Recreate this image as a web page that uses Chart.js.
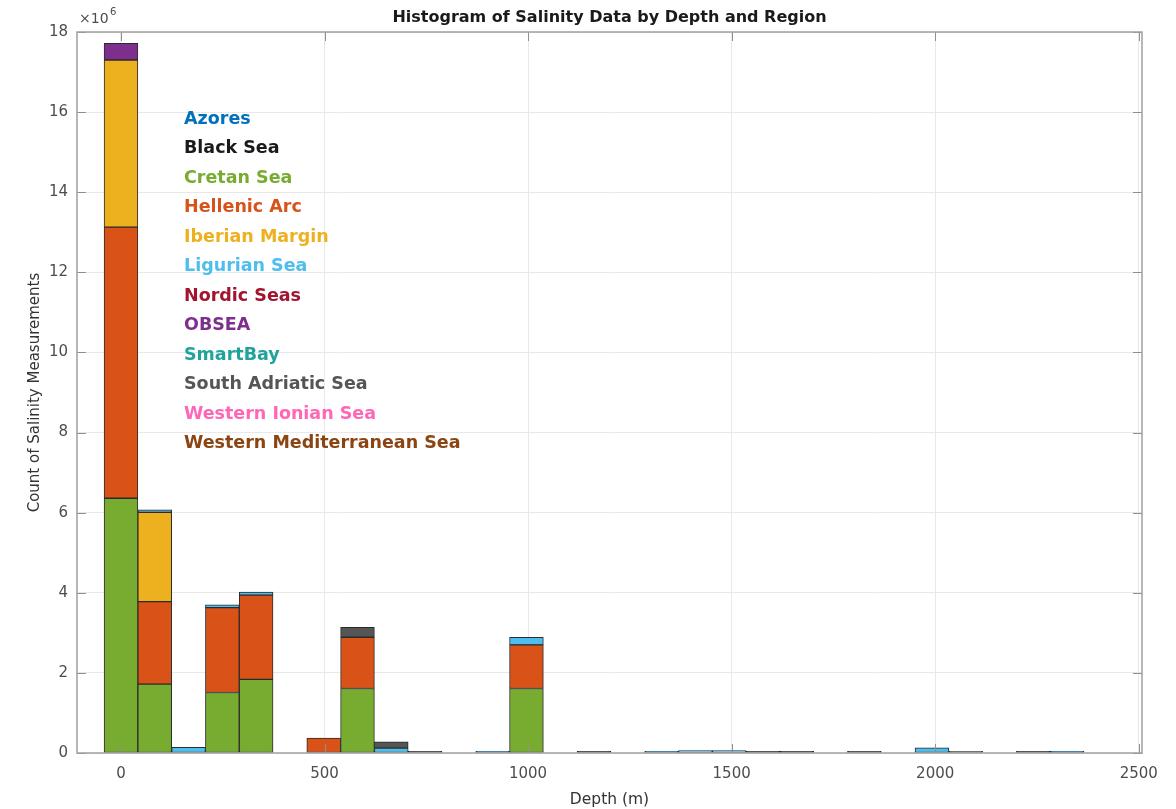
<!DOCTYPE html>
<html>
<head>
<meta charset="utf-8">
<title>Histogram of Salinity Data by Depth and Region</title>
<script src="https://cdn.jsdelivr.net/npm/chart.js@4.4.1/dist/chart.umd.min.js"></script>
<style>
  body { margin: 0; background: #fff; }
  #wrap { width: 1176px; height: 809px; }
</style>
</head>
<body>
<div id="wrap"><canvas id="myChart" width="1176" height="809"></canvas></div>
<script>
// bin centres (m), bin width 83 m
const depthBins = [0, 83, 166, 249, 332, 415, 498, 581, 664, 747, 830, 913, 996, 1079, 1162,
  1245, 1328, 1411, 1494, 1577, 1660, 1743, 1826, 1909, 1992, 2075, 2158, 2241, 2324, 2407];
const xTicks = [0, 500, 1000, 1500, 2000, 2500];
const yTicks = [0, 2, 4, 6, 8, 10, 12, 14, 16, 18];

// counts in millions (x10^6), one value per bin
const azores        = [0, 0, 0, 0, 0, 0, 0, 0, 0, 0, 0, 0.04, 0, 0, 0, 0, 0.04, 0, 0, 0, 0, 0, 0, 0, 0, 0, 0, 0, 0.04, 0];
const blackSea      = [0, 0, 0, 0, 0, 0, 0, 0, 0, 0.04, 0, 0, 0, 0, 0.04, 0, 0, 0, 0, 0.04, 0.04, 0, 0.04, 0, 0, 0, 0, 0.04, 0, 0];
const cretanSea     = [6.36, 1.72, 0, 1.51, 1.84, 0, 0, 1.61, 0, 0, 0, 0, 1.61, 0, 0, 0, 0, 0, 0, 0, 0, 0, 0, 0, 0, 0, 0, 0, 0, 0];
const hellenicArc   = [6.77, 2.06, 0, 2.12, 2.10, 0, 0.37, 1.28, 0, 0, 0, 0, 1.09, 0, 0, 0, 0, 0, 0, 0, 0, 0, 0, 0, 0, 0, 0, 0, 0, 0];
const iberianMargin = [4.17, 2.23, 0, 0, 0, 0, 0, 0, 0, 0, 0, 0, 0, 0, 0, 0, 0, 0, 0, 0, 0, 0, 0, 0, 0, 0, 0, 0, 0, 0];
const ligurianSea   = [0, 0.06, 0.14, 0.07, 0.08, 0, 0, 0, 0.12, 0, 0, 0, 0.19, 0, 0, 0, 0, 0.06, 0.06, 0, 0, 0, 0, 0, 0.13, 0, 0, 0, 0, 0];
const nordicSeas    = [0, 0, 0, 0, 0, 0, 0, 0, 0, 0, 0, 0, 0, 0, 0, 0, 0, 0, 0, 0, 0, 0, 0, 0, 0, 0, 0, 0, 0, 0];
const obsea         = [0.42, 0, 0, 0, 0, 0, 0, 0, 0, 0, 0, 0, 0, 0, 0, 0, 0, 0, 0, 0, 0, 0, 0, 0, 0, 0, 0, 0, 0, 0];
const smartBay      = [0, 0, 0, 0, 0, 0, 0, 0, 0, 0, 0, 0, 0, 0, 0, 0, 0, 0, 0, 0, 0, 0, 0, 0, 0, 0, 0, 0, 0, 0];
const southAdriatic = [0, 0, 0, 0, 0, 0, 0, 0.25, 0.16, 0, 0, 0, 0, 0, 0, 0, 0, 0, 0, 0, 0, 0, 0, 0, 0, 0.04, 0, 0, 0, 0];
const westernIonian = [0, 0, 0, 0, 0, 0, 0, 0, 0, 0, 0, 0, 0, 0, 0, 0, 0, 0, 0, 0, 0, 0, 0, 0, 0, 0, 0, 0, 0, 0];
const westernMed    = [0, 0, 0, 0, 0, 0, 0, 0, 0, 0, 0, 0, 0, 0, 0, 0, 0, 0, 0, 0, 0, 0, 0, 0, 0, 0, 0, 0, 0, 0];

const regions = ["Azores", "Black Sea", "Cretan Sea", "Hellenic Arc", "Iberian Margin", "Ligurian Sea",
  "Nordic Seas", "OBSEA", "SmartBay", "South Adriatic Sea", "Western Ionian Sea", "Western Mediterranean Sea"];
const regionValues = [azores, blackSea, cretanSea, hellenicArc, iberianMargin, ligurianSea,
  nordicSeas, obsea, smartBay, southAdriatic, westernIonian, westernMed];
const colores = ["#0072BD", "#1a1a1a", "#77AC30", "#D95319", "#EDB120", "#4DBEEE",
  "#A2142F", "#7E2F8E", "#1FA39B", "#555555", "#FF66B8", "#8B4513"];

const FONT = "'DejaVu Sans', Verdana, sans-serif";

const datasets = regions.map((nombre, i) => ({
  label: nombre,
  data: depthBins.map((d, j) => ({ x: d, y: regionValues[i][j] })),
  backgroundColor: colores[i],
  borderColor: "#2b2b2b",
  borderWidth: 1,
  borderSkipped: false,
  barPercentage: 1,
  categoryPercentage: 1,
}));

// text legend, box, inward ticks, title, exponent
const decoracion = {
  id: "decoracion",
  afterDatasetsDraw(chart) {
    const ctx = chart.ctx;
    const a = chart.chartArea;
    const xs = chart.scales.x;
    const ys = chart.scales.y;
    ctx.save();
    ctx.strokeStyle = "#8f8f8f";
    ctx.lineWidth = 1;
    ctx.beginPath();
    xTicks.forEach((t) => {
      const px = Math.round(xs.getPixelForValue(t)) + 0.5;
      ctx.moveTo(px, a.bottom); ctx.lineTo(px, a.bottom - 9);
      ctx.moveTo(px, a.top); ctx.lineTo(px, a.top + 9);
    });
    yTicks.forEach((t) => {
      const py = Math.round(ys.getPixelForValue(t)) + 0.5;
      ctx.moveTo(a.left, py); ctx.lineTo(a.left + 9, py);
      ctx.moveTo(a.right, py); ctx.lineTo(a.right - 9, py);
    });
    ctx.stroke();
    ctx.strokeStyle = "#a0a0a0";
    ctx.lineWidth = 1.5;
    ctx.strokeRect(a.left, a.top, a.right - a.left, a.bottom - a.top);

    ctx.textBaseline = "middle";
    ctx.textAlign = "left";
    ctx.font = "bold 17.5px " + FONT;
    regions.forEach((nombre, i) => {
      ctx.fillStyle = colores[i];
      ctx.fillText(nombre, 184, 119.5 + i * 29.45);
    });

    ctx.textAlign = "center";
    ctx.fillStyle = "#1a1a1a";
    ctx.font = "bold 16px " + FONT;
    ctx.fillText("Histogram of Salinity Data by Depth and Region", (a.left + a.right) / 2, 18);

    ctx.textAlign = "left";
    ctx.fillStyle = "#4d4d4d";
    ctx.font = "14px " + FONT;
    ctx.fillText("\u00d710", 79, 19);
    ctx.font = "10px " + FONT;
    ctx.fillText("6", 110, 12);
    ctx.restore();
  },
};

new Chart(document.getElementById("myChart"), {
  type: "bar",
  data: { datasets: datasets },
  options: {
    responsive: false,
    animation: false,
    layout: { padding: { left: 0, right: 34, top: 32, bottom: 0 } },
    plugins: {
      legend: { display: false },
      tooltip: { enabled: false },
    },
    scales: {
      x: {
        type: "linear",
        stacked: true,
        offset: false,
        min: -108,
        max: 2508,
        afterBuildTicks: (scale) => { scale.ticks = xTicks.map((v) => ({ value: v })); },
        afterFit: (scale) => { scale.height = 56; },
        grid: { color: "#e8e8e8", drawTicks: false, offset: false },
        border: { display: false },
        ticks: { color: "#4d4d4d", font: { family: FONT, size: 15 }, padding: 12, maxRotation: 0, callback: (v) => String(v) },
        title: { display: true, text: "Depth (m)", color: "#333", font: { family: FONT, size: 15.5 }, padding: { top: 0, bottom: 0 } },
      },
      y: {
        stacked: true,
        min: 0,
        max: 18,
        afterBuildTicks: (scale) => { scale.ticks = yTicks.map((v) => ({ value: v })); },
        afterFit: (scale) => { scale.width = 77; },
        grid: { color: "#e8e8e8", drawTicks: false },
        border: { display: false },
        ticks: { color: "#4d4d4d", font: { family: FONT, size: 15 }, padding: 9 },
        title: { display: true, text: "Count of Salinity Measurements", color: "#333", font: { family: FONT, size: 15 }, padding: { top: 26, bottom: 0 } },
      },
    },
  },
  plugins: [decoracion],
});
</script>
</body>
</html>
